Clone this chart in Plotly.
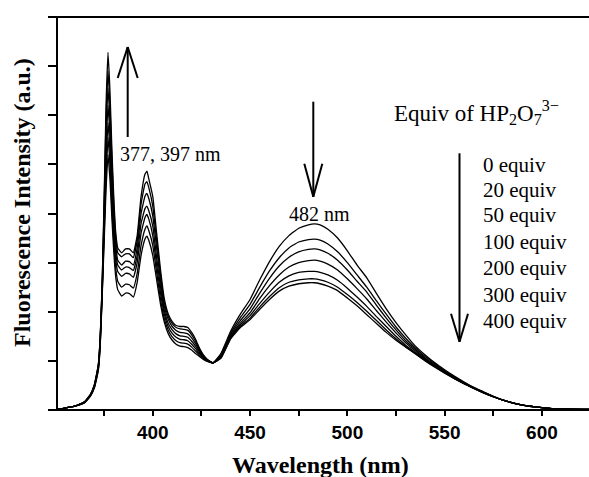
import plotly.graph_objects as go

# ---------------- data ----------------
wavelength = [350, 355, 360, 365, 368, 370, 372, 373,
              374, 375, 376, 377, 378, 379, 380, 381, 382,
              384, 386, 388, 390, 392, 394, 396,
              397, 398,
              400, 402, 404, 406, 408, 410, 412, 414, 416, 418, 420, 422, 424, 426, 428,
              431,
              435, 440, 445, 450, 455, 460, 465, 470, 475, 480,
              483, 486,
              490, 495, 500, 505, 510, 515, 520, 525, 530, 535, 540, 545, 550, 555, 560,
              565, 570, 575, 580,
              590, 600, 610, 625]

equiv_labels = ["0 equiv", "20 equiv", "50 equiv", "100 equiv",
                "200 equiv", "300 equiv", "400 equiv"]

intensity_0 = [0.0, 0.04, 0.08, 0.15, 0.28, 0.45, 0.80, 1.30,
               2.30, 3.40, 4.50, 5.20, 4.70, 3.90, 3.20, 2.70, 2.45,
               2.32, 2.38, 2.37, 2.30, 2.60, 3.15, 3.48,
               3.54, 3.45,
               3.15, 2.65, 2.15, 1.78, 1.55, 1.42, 1.34, 1.30, 1.29, 1.27, 1.22, 1.15, 1.09, 1.03, 0.99,
               0.96,
               1.15, 1.60, 1.95, 2.25, 2.65, 3.02, 3.33, 3.55, 3.70, 3.77,
               3.79, 3.77,
               3.68, 3.50, 3.24, 2.95, 2.69, 2.37, 2.06, 1.78, 1.53, 1.30, 1.12, 0.96, 0.82, 0.69, 0.57,
               0.46, 0.37, 0.28, 0.20,
               0.10, 0.05, 0.02, 0.01]

intensity_20 = [0.0, 0.04, 0.08, 0.15, 0.29, 0.46, 0.82, 1.33,
                2.35, 3.55, 4.75, 5.55, 5.00, 4.10, 3.40, 2.88, 2.62,
                2.50, 2.56, 2.55, 2.48, 2.78, 3.35, 3.68,
                3.75, 3.65,
                3.35, 2.80, 2.25, 1.85, 1.62, 1.49, 1.41, 1.37, 1.36, 1.34, 1.28, 1.20, 1.12, 1.05, 1.00,
                0.96,
                1.12, 1.56, 1.88, 2.15, 2.50, 2.83, 3.10, 3.30, 3.42, 3.47,
                3.48, 3.46,
                3.38, 3.22, 3.00, 2.75, 2.50, 2.22, 1.95, 1.69, 1.46, 1.26, 1.09, 0.94, 0.80, 0.67, 0.56,
                0.45, 0.36, 0.28, 0.20,
                0.10, 0.05, 0.02, 0.01]

intensity_50 = [0.0, 0.04, 0.08, 0.16, 0.30, 0.48, 0.85, 1.38,
                2.40, 3.70, 5.00, 5.85, 5.30, 4.35, 3.60, 3.05, 2.82,
                2.72, 2.78, 2.77, 2.70, 3.00, 3.60, 3.92,
                3.98, 3.88,
                3.55, 2.95, 2.38, 1.94, 1.69, 1.56, 1.48, 1.44, 1.43, 1.41, 1.34, 1.25, 1.15, 1.07, 1.01,
                0.96,
                1.10, 1.53, 1.82, 2.06, 2.38, 2.68, 2.93, 3.11, 3.22, 3.27,
                3.28, 3.26,
                3.19, 3.05, 2.85, 2.62, 2.40, 2.13, 1.87, 1.63, 1.41, 1.23, 1.06, 0.92, 0.79, 0.67, 0.55,
                0.45, 0.36, 0.27, 0.20,
                0.10, 0.05, 0.02, 0.01]

intensity_100 = [0.0, 0.04, 0.08, 0.16, 0.30, 0.49, 0.87, 1.42,
                 2.45, 3.85, 5.35, 6.20, 5.60, 4.60, 3.80, 3.20, 2.95,
                 2.85, 2.91, 2.90, 2.84, 3.15, 3.80, 4.10,
                 4.15, 4.05,
                 3.75, 3.10, 2.50, 2.02, 1.76, 1.63, 1.55, 1.51, 1.50, 1.48, 1.40, 1.30, 1.18, 1.08, 1.01,
                 0.96,
                 1.08, 1.50, 1.77, 1.98, 2.27, 2.53, 2.75, 2.91, 3.00, 3.04,
                 3.05, 3.03,
                 2.97, 2.85, 2.67, 2.47, 2.26, 2.02, 1.79, 1.57, 1.37, 1.20, 1.04, 0.90, 0.78, 0.66, 0.55,
                 0.45, 0.36, 0.27, 0.20,
                 0.10, 0.05, 0.02, 0.01]

intensity_200 = [0.0, 0.04, 0.08, 0.17, 0.31, 0.50, 0.89, 1.45,
                 2.50, 4.00, 5.70, 6.55, 5.90, 4.85, 3.95, 3.35, 3.05,
                 2.95, 3.03, 3.02, 2.95, 3.30, 4.00, 4.35,
                 4.41, 4.30,
                 3.95, 3.30, 2.62, 2.10, 1.84, 1.70, 1.62, 1.58, 1.57, 1.55, 1.47, 1.35, 1.21, 1.10, 1.02,
                 0.96,
                 1.07, 1.48, 1.73, 1.92, 2.17, 2.40, 2.60, 2.73, 2.80, 2.82,
                 2.82, 2.80,
                 2.75, 2.64, 2.48, 2.30, 2.11, 1.90, 1.70, 1.50, 1.32, 1.17, 1.02, 0.89, 0.77, 0.65, 0.54,
                 0.44, 0.35, 0.27, 0.20,
                 0.10, 0.05, 0.02, 0.01]

intensity_300 = [0.0, 0.04, 0.08, 0.17, 0.32, 0.51, 0.91, 1.48,
                 2.55, 4.15, 5.95, 6.90, 6.20, 5.10, 4.15, 3.50, 3.20,
                 3.12, 3.18, 3.18, 3.10, 3.45, 4.20, 4.60,
                 4.65, 4.52,
                 4.15, 3.45, 2.75, 2.18, 1.90, 1.76, 1.68, 1.65, 1.64, 1.62, 1.53, 1.40, 1.24, 1.11, 1.03,
                 0.96,
                 1.06, 1.46, 1.70, 1.87, 2.10, 2.31, 2.49, 2.60, 2.65, 2.67,
                 2.67, 2.65,
                 2.60, 2.50, 2.35, 2.19, 2.01, 1.82, 1.63, 1.45, 1.29, 1.15, 1.01, 0.88, 0.76, 0.64, 0.54,
                 0.44, 0.35, 0.27, 0.20,
                 0.10, 0.05, 0.02, 0.01]

intensity_400 = [0.0, 0.04, 0.08, 0.17, 0.32, 0.52, 0.92, 1.50,
                 2.60, 4.30, 6.20, 7.28, 6.50, 5.30, 4.30, 3.60, 3.30,
                 3.20, 3.28, 3.28, 3.20, 3.55, 4.35, 4.80,
                 4.86, 4.70,
                 4.35, 3.60, 2.85, 2.25, 1.95, 1.80, 1.72, 1.70, 1.70, 1.68, 1.58, 1.44, 1.26, 1.12, 1.03,
                 0.96,
                 1.05, 1.45, 1.68, 1.84, 2.05, 2.25, 2.42, 2.52, 2.57, 2.59,
                 2.59, 2.57,
                 2.52, 2.43, 2.28, 2.12, 1.94, 1.76, 1.58, 1.42, 1.28, 1.14, 1.00, 0.87, 0.75, 0.64, 0.53,
                 0.44, 0.35, 0.27, 0.20,
                 0.10, 0.05, 0.02, 0.01]

series = [intensity_0, intensity_20, intensity_50, intensity_100,
          intensity_200, intensity_300, intensity_400]

x_major_ticks = [400, 450, 500, 550, 600]
x_tick_labels = ["400", "450", "500", "550", "600"]
x_minor_ticks = [375, 425, 475, 525, 575]
y_tick_vals = [0, 1, 2, 3, 4, 5, 6, 7, 8]

x_title = "Wavelength (nm)"
y_title = "Fluorescence Intensity (a.u.)"
legend_title = "Equiv of HP<sub>2</sub>O<sub>7</sub><sup>3\u2212</sup>"
peak_label_uv = "377, 397 nm"
peak_label_vis = "482 nm"

# ---------------- layout geometry ----------------
W, H = 589, 477
L, R, T, B = 58, 0, 17, 67
PW, PH = W - L - R, H - T - B


def px(x):
    return (x - L) / PW


def py(y):
    return (H - B - y) / PH


SERIF = "Liberation Serif, Times New Roman, serif"
SANS = "Liberation Sans, Arial, sans-serif"

fig = go.Figure()
for name, vals in zip(equiv_labels, series):
    fig.add_trace(go.Scatter(
        x=wavelength, y=vals, mode="lines", name=name,
        line=dict(color="black", width=1.3, shape="spline", smoothing=0.35),
        showlegend=False, hoverinfo="x+y+name"))

shapes = []


def line(x0, y0, x1, y1, w=2):
    shapes.append(dict(type="line", xref="paper", yref="paper",
                       x0=px(x0), y0=py(y0), x1=px(x1), y1=py(y1),
                       line=dict(color="black", width=w)))


def arrow(x, y_tail, y_tip, half_w, head_len):
    d = 1 if y_tip > y_tail else -1
    line(x, y_tail, x, y_tip)
    line(x - half_w, y_tip - d * head_len, x, y_tip)
    line(x + half_w, y_tip - d * head_len, x, y_tip)


# frame lines (bottom and top, overhanging the y axis slightly)
line(50, 410, 589, 410, 2)
line(50, 17, 589, 17, 2)

arrow(127.7, 137, 47, 10, 31)
arrow(313.3, 101.7, 196.7, 9, 33)
arrow(459.5, 153.3, 341.7, 8.5, 28)

annotations = []


def text(s, x, y, size, xanchor="left", yanchor="middle", bold=False, font=SERIF, angle=0):
    annotations.append(dict(
        text=s, x=px(x), y=py(y), xref="paper", yref="paper",
        xanchor=xanchor, yanchor=yanchor, showarrow=False, textangle=angle,
        font=dict(family=font, size=size, color="black",
                  weight="bold" if bold else "normal")))


text(peak_label_uv, 118, 153.5, 20)
text(peak_label_vis, 287, 213.5, 20)
text(legend_title, 391.7, 113, 23)
legend_y = [164.7, 189.7, 215.0, 241.5, 268.0, 294.5, 321.0]
for lab, yy in zip(equiv_labels, legend_y):
    text(lab, 481, yy, 21)

text(x_title, 320, 465, 24, xanchor="center", bold=True)
text(y_title, 22, 203, 24, xanchor="center", bold=True, angle=-90)

fig.update_layout(
    width=W, height=H,
    margin=dict(l=L, r=R, t=T, b=B, pad=0),
    paper_bgcolor="white", plot_bgcolor="white",
    shapes=shapes, annotations=annotations,
    xaxis=dict(range=[351.3, 624.2], tickvals=x_major_ticks, ticktext=x_tick_labels,
               ticks="outside", ticklen=5, tickwidth=2, tickcolor="black",
               minor=dict(tickvals=x_minor_ticks, ticks="outside", ticklen=5,
                          tickwidth=2, tickcolor="black", showgrid=False),
               showline=False, showgrid=False, zeroline=False,
               tickfont=dict(family=SANS, size=19, color="black", weight="bold")),
    yaxis=dict(range=[0, 8], tickvals=y_tick_vals, showticklabels=False,
               ticks="outside", ticklen=8, tickwidth=2, tickcolor="black",
               showline=True, linewidth=2, linecolor="black",
               showgrid=False, zeroline=False),
)

fig.write_html("out.html")
